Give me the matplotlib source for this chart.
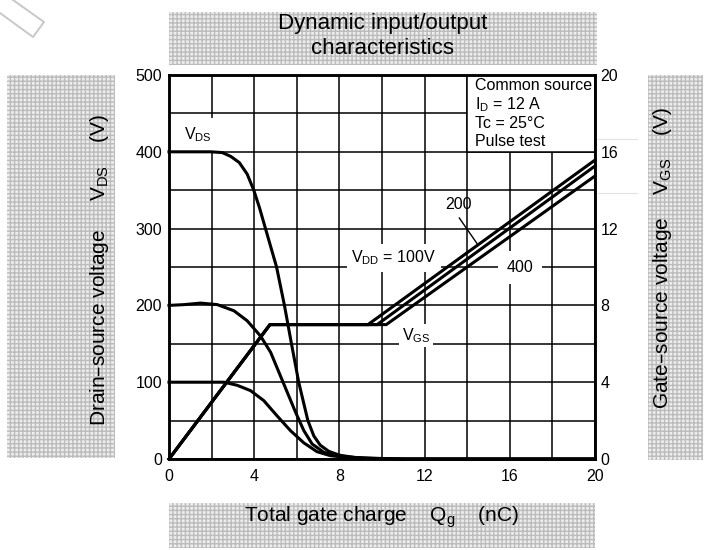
import matplotlib
matplotlib.use('Agg')
import matplotlib.pyplot as plt
from matplotlib.patches import Rectangle
from matplotlib.lines import Line2D

plt.rcParams['font.family'] = ['Liberation Sans', 'DejaVu Sans']
plt.rcParams['mathtext.default'] = 'regular'

# drain-source voltage curves (nC, V)
q_vds_400 = [0, 1.95, 2.5, 2.9, 3.3, 3.67, 3.98, 4.25, 4.53, 5.05, 5.42, 5.75, 6.09,
             6.52, 6.8, 7.1, 7.5, 8.0, 8.7, 9.5, 11, 20]
vds_400 = [400, 400, 399, 394, 386, 371, 350, 327, 300, 250, 200, 150, 100,
           50, 30, 18, 10, 5, 2, 0.8, 0, 0]
q_vds_200 = [0, 0.7, 1.48, 2.27, 3.05, 3.67, 4.30, 4.77, 5.16, 5.55, 5.94, 6.33, 6.72,
             7.27, 8.05, 9.1, 11, 20]
vds_200 = [200, 201, 203, 201, 193, 180, 160, 139, 113, 87, 61, 37, 19.5,
           8.7, 3.5, 1.3, 0, 0]
q_vds_100 = [0, 2.58, 3.2, 3.83, 4.45, 5.08, 5.70, 6.33, 6.95, 7.58, 8.36, 9.1, 11, 20]
vds_100 = [100, 100, 96, 89, 76, 56, 37, 21, 9.5, 4.3, 2, 0.9, 0, 0]

# gate-source voltage curves (nC, V)
q_vgs_100 = [0, 4.74, 9.34, 20]
vgs_100 = [0, 7, 7, 15.57]
q_vgs_200 = [0, 4.74, 9.77, 20]
vgs_200 = [0, 7, 7, 15.26]
q_vgs_400 = [0, 4.74, 10.2, 20]
vgs_400 = [0, 7, 7, 14.74]

x_ticks = [0, 4, 8, 12, 16, 20]
vds_ticks = [0, 100, 200, 300, 400, 500]
vgs_ticks = [0, 4, 8, 12, 16, 20]

W, H = 710, 550
fig = plt.figure(figsize=(7.1, 5.5), dpi=100)


def fx(px):
    return px / W


def fy(py):
    return 1 - py / H


# shaded label boxes
for x0, y0, x1, y1 in [(169, 12, 597, 65), (7, 75, 115, 458),
                       (648, 75, 703, 460), (169, 503, 595, 548)]:
    fig.patches.append(Rectangle((fx(x0), fy(y1)), fx(x1 - x0), (y1 - y0) / H,
                                 transform=fig.transFigure, facecolor='#ededed',
                                 edgecolor='#bcbcbc', hatch='++++', linewidth=0,
                                 zorder=0))

# faint marks
fig.add_artist(Line2D([fx(0), fx(33), fx(44), fx(13)], [fy(13), fy(37), fy(22), fy(0)],
                      color='#c8c8c8', lw=1.4, transform=fig.transFigure))
for yy in [139, 193]:
    fig.add_artist(Line2D([fx(598), fx(637)], [fy(yy), fy(yy)], color='#e2e2e2',
                          lw=0.8, transform=fig.transFigure))

fig.text(fx(383), fy(23), 'Dynamic input/output', ha='center', va='center', fontsize=16)
fig.text(fx(383), fy(48), 'characteristics', ha='center', va='center', fontsize=16)
fig.text(fx(100), fy(270), 'Drain\u2013source voltage     $V_{DS}$    (V)', rotation=90,
         ha='center', va='center', fontsize=15)
fig.text(fx(662), fy(258), 'Gate\u2013source voltage    $V_{GS}$    (V)', rotation=90,
         ha='center', va='center', fontsize=15)
fig.text(fx(382), fy(517), 'Total gate charge    $Q_g$    (nC)', ha='center',
         va='center', fontsize=15)

ax = fig.add_axes([fx(169), fy(459), fx(595 - 169), (459 - 75) / H])
ax.set_xlim(0, 20)
ax.set_ylim(0, 500)
ax.set_yticks(range(0, 501, 50))
ax.set_xticks(range(0, 21, 2))
ax.grid(True, color='black', linewidth=1.1)
ax.set_axisbelow(True)
ax.set_xticklabels([str(v) if v in x_ticks else '' for v in range(0, 21, 2)])
ax.set_yticklabels([str(v) if v in vds_ticks else '' for v in range(0, 501, 50)])
ax.tick_params(length=0, labelsize=11.5)
ax.tick_params(axis='x', pad=7)
ax.tick_params(axis='y', pad=5)
for s in ax.spines.values():
    s.set_linewidth(1.8)

for q, v in [(q_vds_400, vds_400), (q_vds_200, vds_200), (q_vds_100, vds_100)]:
    ax.plot(q, v, color='black', lw=2.2, clip_on=False, solid_joinstyle='round', zorder=4)

# condition box
ax.add_patch(Rectangle((14, 400), 6, 100, facecolor='white', edgecolor='black',
                       linewidth=1.1, zorder=2))
cond = ['Common source', '$I_D$ = 12 A', 'Tc = 25\u00b0C', 'Pulse test']
for i, t in enumerate(cond):
    ax.text(14.35, [486, 461, 437, 413][i], t, ha='left', va='center', fontsize=11.5, zorder=3)

box = dict(boxstyle='square,pad=0.45', facecolor='white', edgecolor='none')
ax.text(1.35, 422, '$V_{DS}$', ha='center', va='center', fontsize=11.5, bbox=box, zorder=3)
ax.text(10.56, 262, '$V_{DD}$ = 100V', ha='center', va='center', fontsize=11.5,
        bbox=dict(boxstyle='square,pad=0.3', facecolor='white', edgecolor='none'), zorder=3)
ax.text(13.57, 331, '200', ha='center', va='center', fontsize=11.5, zorder=3)
ax.annotate('', xy=(14.6, 275), xytext=(13.55, 317),
            arrowprops=dict(arrowstyle='-', color='black', lw=1.0), zorder=3)
ax.text(16.48, 249, '400', ha='center', va='center', fontsize=11.5,
        bbox=dict(boxstyle='square,pad=0.55', facecolor='white', edgecolor='none'), zorder=3)
ax.text(11.6, 161, '$V_{GS}$', ha='center', va='center', fontsize=11.5,
        bbox=dict(boxstyle='square,pad=0.15', facecolor='white', edgecolor='none'), zorder=3)

ax2 = ax.twinx()
ax2.set_ylim(0, 20)
ax2.set_yticks(vgs_ticks)
ax2.tick_params(length=0, labelsize=11.5, pad=4)
for s in ax2.spines.values():
    s.set_linewidth(1.8)
for q, v in [(q_vgs_100, vgs_100), (q_vgs_200, vgs_200), (q_vgs_400, vgs_400)]:
    ax2.plot(q, v, color='black', lw=2.2, clip_on=False, solid_joinstyle='miter')

fig.savefig('out.png', dpi=100)
